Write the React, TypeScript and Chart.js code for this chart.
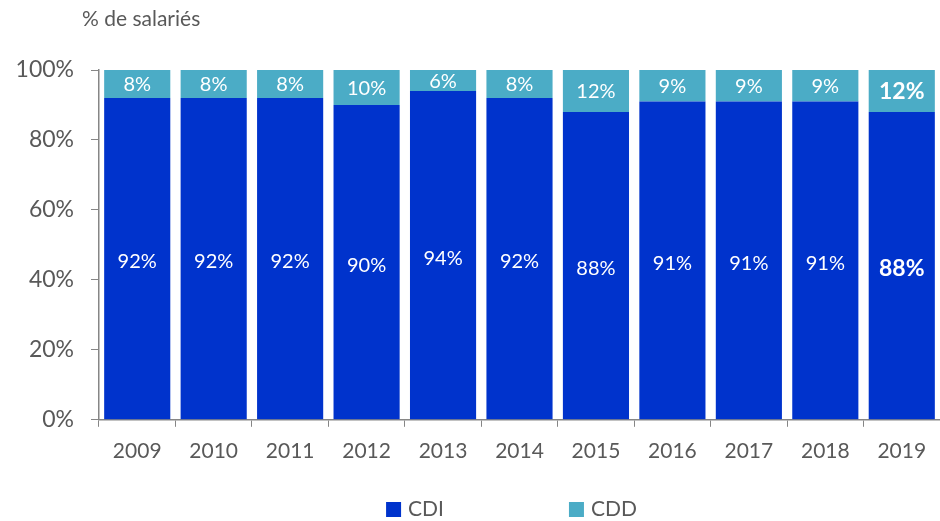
import { useEffect, useRef } from "react";
import { Chart, registerables } from "chart.js";

Chart.register(...registerables);

const years = ["2009", "2010", "2011", "2012", "2013", "2014", "2015", "2016", "2017", "2018", "2019"];
const cdiValues = [92, 92, 92, 90, 94, 92, 88, 91, 91, 91, 88];
const cddValues = [8, 8, 8, 10, 6, 8, 12, 9, 9, 9, 12];
const seriesNames = ["CDI", "CDD"];
const axisTitle = "% de salariés";
const yMin = 0;
const yMax = 100;
const yStep = 20;

const CDI_COLOR = "#0033CC";
const CDD_COLOR = "#4BACC6";
const TEXT_COLOR = "#595959";
const AXIS_COLOR = "#868686";
const FONT = "Lato";

const labelPlugin = {
  id: "barLabels",
  afterDatasetsDraw(chart: any) {
    const ctx = chart.ctx;
    ctx.save();
    ctx.textAlign = "center";
    ctx.textBaseline = "middle";
    ctx.fillStyle = "#ffffff";
    chart.data.datasets.forEach((ds: any, di: number) => {
      const meta = chart.getDatasetMeta(di);
      meta.data.forEach((bar: any, i: number) => {
        const p = bar.getProps(["x", "y", "base"], true);
        const last = i === ds.data.length - 1;
        ctx.font = `${last ? "bold " : ""}${last ? 23 : 20}px ${FONT}`;
        const off = di === 0 ? 3 : 1;
        ctx.fillText(ds.data[i] + "%", p.x, (p.y + p.base) / 2 + off);
      });
    });
    ctx.restore();
  },
};

const decorPlugin = {
  id: "decor",
  afterDraw(chart: any) {
    const ctx = chart.ctx;
    const area = chart.chartArea;
    ctx.save();
    // axis title
    ctx.fillStyle = TEXT_COLOR;
    ctx.font = `21px ${FONT}`;
    ctx.textAlign = "left";
    ctx.textBaseline = "middle";
    ctx.fillText(axisTitle, area.left - 17, 19);
    // legend
    ctx.font = `21px ${FONT}`;
    const box = 15;
    const gapText = 7;
    const gapItems = 125;
    const items = chart.data.datasets.map((ds: any) => ({
      label: ds.label,
      color: ds.backgroundColor,
      w: ctx.measureText(ds.label).width,
    }));
    let total = 0;
    items.forEach((it: any, k: number) => {
      total += box + gapText + it.w + (k < items.length - 1 ? gapItems : 0);
    });
    let x = (area.left + area.right) / 2 - total / 2 - 8;
    const cy = 509.5;
    items.forEach((it: any) => {
      ctx.fillStyle = it.color;
      ctx.fillRect(x, cy - box / 2, box, box);
      x += box + gapText;
      ctx.fillStyle = TEXT_COLOR;
      ctx.fillText(it.label, x, cy);
      x += it.w + gapItems;
    });
    ctx.restore();
  },
};

export default function App() {
  const ref = useRef<HTMLCanvasElement | null>(null);
  useEffect(() => {
    if (!ref.current) return;
    const chart = new Chart(ref.current, {
      type: "bar",
      data: {
        labels: years,
        datasets: [
          { label: seriesNames[0], data: cdiValues, backgroundColor: CDI_COLOR },
          { label: seriesNames[1], data: cddValues, backgroundColor: CDD_COLOR },
        ],
      },
      options: {
        responsive: false,
        animation: false,
        layout: { padding: { top: 70, bottom: 45, left: 0, right: 0 } },
        datasets: {
          bar: { categoryPercentage: 1, barPercentage: 0.865 },
        } as any,
        plugins: {
          legend: { display: false },
          tooltip: { enabled: false },
          title: { display: false },
        },
        scales: {
          x: {
            stacked: true,
            grid: {
              offset: true,
              drawOnChartArea: false,
              drawTicks: true,
              tickLength: 7,
              color: AXIS_COLOR,
            },
            border: { color: AXIS_COLOR, width: 1.5 },
            ticks: {
              color: TEXT_COLOR,
              font: { family: FONT, size: 21 },
              padding: 12,
              maxRotation: 0,
            },
          },
          y: {
            stacked: true,
            min: yMin,
            max: yMax,
            afterFit(scale: any) {
              scale.width = 99;
            },
            grid: {
              drawOnChartArea: false,
              drawTicks: true,
              tickLength: 8,
              color: AXIS_COLOR,
            },
            border: { color: AXIS_COLOR, width: 1.5 },
            ticks: {
              stepSize: yStep,
              color: TEXT_COLOR,
              font: { family: FONT, size: 23 },
              padding: 17,
              callback: (v: any) => v + "%",
            },
          },
        },
      },
      plugins: [labelPlugin, decorPlugin],
    });
    return () => chart.destroy();
  }, []);
  return (
    <canvas
      ref={ref}
      width={940}
      height={521}
      style={{ position: "fixed", left: 0, top: 0, display: "block", background: "#fff" }}
    />
  );
}
